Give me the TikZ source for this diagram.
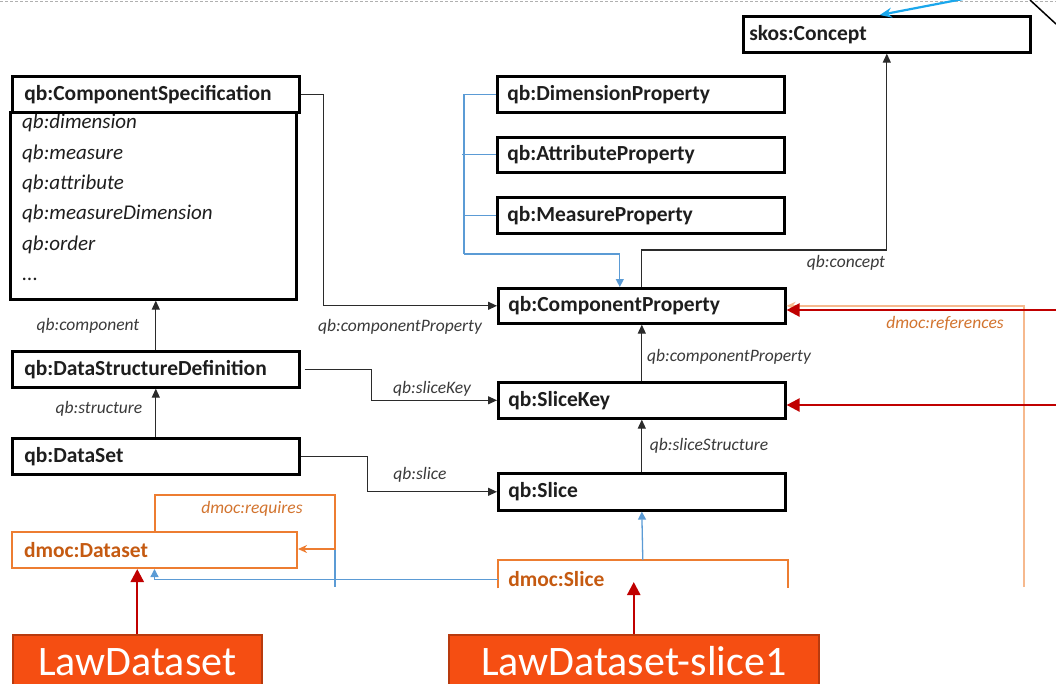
\documentclass[tikz,border=0pt]{standalone}
\usepackage{fontspec}
\setmainfont{Carlito}
\usetikzlibrary{arrows.meta}

\definecolor{ink}{HTML}{1E1E1E}
\definecolor{lbl}{HTML}{3A3A3A}
\definecolor{connc}{HTML}{2B2B2B}
\definecolor{dmocedge}{HTML}{ED7D31}
\definecolor{dmoctext}{HTML}{C55A11}
\definecolor{dmoclab}{HTML}{D2742F}
\definecolor{reflight}{HTML}{F6B98E}
\definecolor{subblue}{HTML}{5B9BD5}
\definecolor{skyblue}{HTML}{1AA7EC}
\definecolor{redarrow}{HTML}{C00000}
\definecolor{lawfill}{HTML}{F54E12}
\definecolor{lawedge}{HTML}{B83A0E}
\definecolor{dashgray}{HTML}{B0B0B0}

\begin{document}
\begin{tikzpicture}[x=1pt,y=-1pt,
  cls/.style={draw=black, line width=2.6pt, fill=white, anchor=north west, align=left,
    inner xsep=10pt, inner ysep=0pt, text width=267pt, minimum height=36pt,
    font=\fontsize{21.5}{24}\selectfont\bfseries, text=ink},
  leftcls/.style={cls, inner xsep=12pt, text width=263pt},
  dmoccls/.style={cls, draw=dmocedge, line width=2pt, text=dmoctext},
  lawbox/.style={draw=lawedge, line width=1.5pt, fill=lawfill, anchor=north west,
    minimum height=60pt, inner sep=0pt, text height=22pt, text depth=0pt,
    text=white, font=\fontsize{42}{48}\selectfont},
  conn/.style={draw=connc, line width=1.2pt, -{Triangle[length=9pt,width=8pt]}},
  subline/.style={draw=subblue, line width=1.3pt},
  subarrow/.style={subline, -{Triangle[length=8pt,width=8pt]}},
  reqline/.style={draw=dmocedge, line width=2pt, -{Stealth[length=9pt,width=8pt]}},
  refline/.style={draw=reflight, line width=2pt, -{Stealth[length=9pt,width=8pt]}},
  redconn/.style={draw=redarrow, line width=2.4pt, -{Triangle[length=13pt,width=13pt]}},
  lab/.style={font=\fontsize{17.5}{20}\selectfont\itshape, text=lbl, inner sep=0pt},
  dlab/.style={lab, text=dmoclab}
]
\useasboundingbox (0,0) rectangle (1056,683);

% frame remnants along the top edge
\coordinate (tl) at (0,1);
\coordinate (tr) at (1056,1);
\draw[dashgray, line width=0.8pt, dash pattern=on 3pt off 2pt] (tl) -- (tr);
\coordinate (d1) at (1030,0);
\coordinate (d2) at (1056,24);
\draw[black, line width=1.5pt] (d1) -- (d2);

% classes
\node[cls, inner xsep=6pt, text width=275pt] (skos) at (742,15) {skos:Concept};

\node[draw=black, line width=2.6pt, fill=white, anchor=north west,
      minimum width=286pt, minimum height=187pt, inner sep=0pt] (csbody) at (9,111) {};
\node[anchor=north west, align=left, inner sep=0pt,
      font=\fontsize{21}{30.4}\selectfont\itshape, text=ink] (csitems) at (22,114)
  {qb:dimension\\qb:measure\\qb:attribute\\qb:measureDimension\\qb:order\\...};
\node[leftcls] (cs) at (11,75) {qb:ComponentSpecification};

\node[cls] (dimp) at (496,75) {qb:DimensionProperty};
\node[cls, minimum height=35pt] (attp) at (496,136) {qb:AttributeProperty};
\node[cls] (meap) at (496,196) {qb:MeasureProperty};
\node[cls, minimum height=35pt] (compp) at (497,287) {qb:ComponentProperty};
\node[cls] (slkey) at (497,381) {qb:SliceKey};
\node[cls, minimum height=37pt] (slice) at (497,472) {qb:Slice};

\node[leftcls] (dsd) at (11,350) {qb:DataStructureDefinition};
\node[leftcls] (dset) at (11,437) {qb:DataSet};

\node[dmoccls, inner xsep=12pt, text width=261pt] (dmds) at (11,531) {dmoc:Dataset};
\node[cls, draw=none, fill=none, text=dmoctext, inner xsep=9pt, text width=269pt]
  (dmsl) at (498,560) {dmoc:Slice};
\draw[dmocedge, line width=2pt] ([yshift=-9pt]dmsl.west) -- (dmsl.north west)
  -- (dmsl.north east) -- ([yshift=-9pt]dmsl.east);

% properties between classes
\draw[conn] (cs.east) -- ++(23,0) |- (compp.west);
\node[lab] (l-cp1) at (400,327) {qb:componentProperty};

\draw[conn] (dsd.north) -- (dsd.north |- csbody.south);
\node[lab] (l-comp) at (88,326) {qb:component};

\draw[conn] (dset.north) -- (dsd.south);
\node[lab] (l-struct) at (99,409) {qb:structure};

\draw[conn] ([xshift=4pt]dsd.east) -- ++(67,0) |- (slkey.west);
\node[lab] (l-skey) at (432,389) {qb:sliceKey};

\draw[conn] (dset.east) -- ++(67,0) |- (slice.west);
\node[lab] (l-slice) at (420,475) {qb:slice};

\draw[conn] (compp.north) -- ++(0,-37) -| (skos.south);
\node[lab] (l-concept) at (846,263) {qb:concept};

\draw[conn] (slkey.north) -- (compp.south);
\node[lab] (l-cp2) at (729,357) {qb:componentProperty};

\draw[conn] (slice.north) -- (slkey.south);
\node[lab] (l-sstruct) at (709,446) {qb:sliceStructure};

% subclass links
\coordinate (bx) at (464,254);
\draw[subline] (dimp.west) -- (dimp.west -| bx) -- (bx);
\draw[subline] ([xshift=-2pt]attp.west -| bx) -- (attp.west);
\draw[subline] (meap.west) -- (meap.west -| bx);
\draw[subarrow] (bx) -| ([xshift=-22pt]compp.north);

\draw[subarrow] (dmsl.north) -- (slice.south);
\draw[subarrow] (dmsl.west) -| (dmds.south);

% dmoc:requires self link
\coordinate (rq) at (335,549);
\coordinate (cut1) at (335,587);
\draw[subline] (rq) -- (cut1);
\draw[reqline] (dmds.north) -- ++(0,-36) -| (rq) -- (rq -| dmds.east);
\node[dlab] (l-req) at (252,509) {dmoc:requires};

% dmoc:references
\coordinate (cut2) at (1024,587);
\draw[refline] (cut2) |- (compp.east);
\node[dlab] (l-ref) at (945,323) {dmoc:references};

% incoming links from the right
\coordinate (r1) at (1056,310);
\coordinate (r2) at (1056,405);
\draw[redconn] (r1) -- (r1 -| compp.east);
\draw[redconn] (r2) -- (r2 -| slkey.east);

% link from the upper right
\coordinate (sk) at (963,-1);
\draw[skyblue, line width=2.2pt, -{Stealth[length=12pt,width=10pt]}] (sk) -- ([xshift=-7pt]skos.north);

% instances
\node[lawbox, minimum width=249pt] (law1) at (12,634) {LawDataset};
\node[lawbox, minimum width=370pt] (law2) at (448,634) {LawDataset-slice1};
\draw[redconn] (law1.north) -- (law1.north |- dmds.south);
\draw[redconn] (law2.north) -- ++(0,-52);
\end{tikzpicture}
\end{document}
